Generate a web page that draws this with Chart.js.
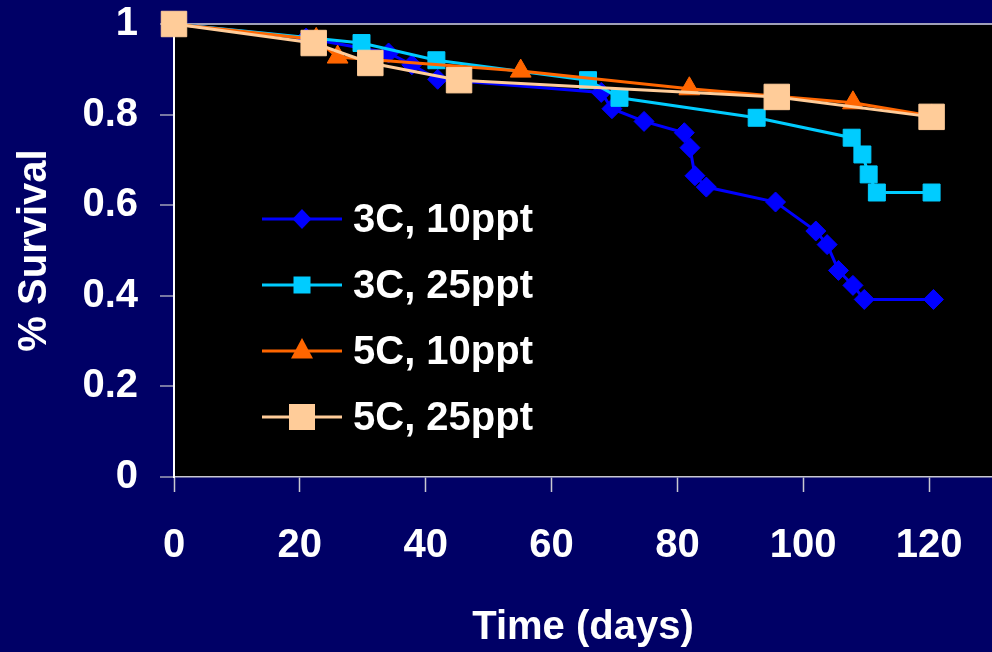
<!DOCTYPE html>
<html>
<head>
<meta charset="utf-8">
<script src="https://cdn.jsdelivr.net/npm/chart.js@4.4.0/dist/chart.umd.min.js"></script>
<style>
  html, body { margin: 0; padding: 0; background: #000066; }
  canvas { display: block; }
</style>
</head>
<body>
<canvas id="grafico" width="992" height="652"></canvas>
<script>
// values (days, fraction surviving)
const nomes = ["3C, 10ppt", "3C, 25ppt", "5C, 10ppt", "5C, 25ppt"]

const dias3c10 = [0, 21, 34.1, 37.8, 41.9, 67.9, 69.6, 74.7, 81.1, 82.0, 82.8, 84.6, 95.6, 102.0, 103.8, 105.6, 107.9, 109.7, 120.7]
const surv3c10 = [1, 0.969, 0.936, 0.910, 0.878, 0.849, 0.813, 0.785, 0.760, 0.727, 0.665, 0.640, 0.607, 0.543, 0.513, 0.456, 0.423, 0.392, 0.392]

const dias3c25 = [0, 29.8, 41.7, 65.8, 70.8, 92.6, 107.7, 109.4, 110.4, 111.7, 120.4]
const surv3c25 = [1, 0.958, 0.920, 0.876, 0.837, 0.793, 0.749, 0.712, 0.668, 0.628, 0.628]

const dias5c10 = [0, 22.6, 26.0, 55.1, 81.9, 107.9, 120.4]
const surv5c10 = [1, 0.966, 0.927, 0.896, 0.857, 0.826, 0.797]

const dias5c25 = [0, 22.2, 31.2, 45.3, 95.8, 120.4]
const surv5c25 = [1, 0.958, 0.914, 0.876, 0.839, 0.795]

const ticksY = [0, 0.2, 0.4, 0.6, 0.8, 1]
const ticksX = [0, 20, 40, 60, 80, 100, 120]

const cores = ["#0000FF", "#00CCFF", "#FF6600", "#FFCC99"]
const marcadores = ["rectRot", "rect", "triangle", "rect"]
const raios = [10, 12, 12, 18]

function pontos(xs, ys) {
    return xs.map((x, i) => ({ x: x, y: ys[i] }))
}

function serie(i, xs, ys, ordem) {
    return {
        label: nomes[i],
        data: pontos(xs, ys),
        borderColor: cores[i],
        backgroundColor: cores[i],
        borderWidth: 3,
        pointStyle: marcadores[i],
        pointRadius: raios[i],
        pointBorderWidth: 1,
        pointBorderColor: cores[i],
        pointBackgroundColor: cores[i],
        clip: false,
        order: ordem
    }
}

const fonte = { family: "'Liberation Sans', Arial, sans-serif", size: 40, weight: "bold" }

// black plot area on the navy background
const fundo = {
    id: "fundo",
    beforeDraw(chart) {
        const { ctx, chartArea } = chart
        ctx.save()
        ctx.fillStyle = "#000066"
        ctx.fillRect(0, 0, chart.width, chart.height)
        ctx.fillStyle = "#000000"
        ctx.fillRect(chartArea.left, chartArea.top, chartArea.right - chartArea.left, chartArea.bottom - chartArea.top)
        ctx.restore()
    }
}

// legend inside the plot: line with marker, then text
function desenhaMarcador(ctx, tipo, x, y, cor) {
    ctx.fillStyle = cor
    ctx.beginPath()
    if (tipo == "diamante") {
        ctx.moveTo(x - 9.5, y); ctx.lineTo(x, y - 10); ctx.lineTo(x + 9.5, y); ctx.lineTo(x, y + 10)
    } else if (tipo == "quadrado") {
        ctx.rect(x - 8.5, y - 8.5, 17, 17)
    } else if (tipo == "triangulo") {
        ctx.moveTo(x, y - 13); ctx.lineTo(x + 11, y + 7.5); ctx.lineTo(x - 11, y + 7.5)
    } else {
        ctx.rect(x - 13, y - 13, 26, 26)
    }
    ctx.closePath()
    ctx.fill()
}

const legenda = {
    id: "legenda",
    afterDatasetsDraw(chart) {
        const ctx = chart.ctx
        const tipos = ["diamante", "quadrado", "triangulo", "grande"]
        ctx.save()
        for (let i = 0; i < nomes.length; i++) {
            const y = 219 + i * 66
            ctx.strokeStyle = cores[i]
            ctx.lineWidth = 3
            ctx.beginPath()
            ctx.moveTo(262, y)
            ctx.lineTo(342, y)
            ctx.stroke()
            desenhaMarcador(ctx, tipos[i], 302, y, cores[i])
            ctx.fillStyle = "#FFFFFF"
            ctx.font = "bold 40px 'Liberation Sans', Arial, sans-serif"
            ctx.textBaseline = "middle"
            ctx.textAlign = "left"
            ctx.fillText(nomes[i], 353, y + 2)
        }
        ctx.restore()
    }
}

new Chart(document.getElementById("grafico"), {
    type: "line",
    data: {
        datasets: [
            serie(0, dias3c10, surv3c10, 4),
            serie(1, dias3c25, surv3c25, 3),
            serie(2, dias5c10, surv5c10, 2),
            serie(3, dias5c25, surv5c25, 1)
        ]
    },
    plugins: [fundo, legenda],
    options: {
        responsive: false,
        animation: false,
        devicePixelRatio: 1,
        layout: { autoPadding: false, padding: { top: 24, right: 0, bottom: 0, left: 0 } },
        plugins: { legend: { display: false }, tooltip: { enabled: false } },
        elements: { line: { tension: 0 } },
        scales: {
            x: {
                type: "linear",
                min: 0,
                max: 130,
                afterFit: s => { s.height = 175; s.paddingLeft = 0; s.paddingRight = 0 },
                afterBuildTicks: s => { s.ticks = ticksX.map(v => ({ value: v })) },
                ticks: { color: "#FFFFFF", font: fonte, padding: 30, maxRotation: 0, includeBounds: false },
                grid: { drawOnChartArea: false, tickLength: 15, tickColor: "#C8C8D0", tickWidth: 1.5 },
                border: { color: "#C8C8D0", width: 1.5 },
                title: { display: true, text: "Time (days)", color: "#FFFFFF", font: fonte, padding: { top: 0, bottom: 0 } }
            },
            y: {
                min: 0,
                max: 1,
                afterFit: s => { s.width = 174; s.paddingTop = 0; s.paddingBottom = 0 },
                afterBuildTicks: s => { s.ticks = ticksY.map(v => ({ value: v })) },
                ticks: {
                    color: "#FFFFFF", font: fonte, padding: 22,
                    callback: v => String(Number(v.toFixed(1)))
                },
                grid: {
                    color: c => c.tick && c.tick.value == 1 ? "#A0A0B8" : "rgba(0,0,0,0)",
                    lineWidth: 2,
                    tickLength: 14,
                    tickColor: "#A0A0B8",
                    tickWidth: 1.5
                },
                border: { color: "#FFFFFF", width: 2 },
                title: { display: true, text: "% Survival", color: "#FFFFFF", font: fonte, padding: { top: 11, bottom: 0 } }
            }
        }
    }
})
</script>
</body>
</html>
